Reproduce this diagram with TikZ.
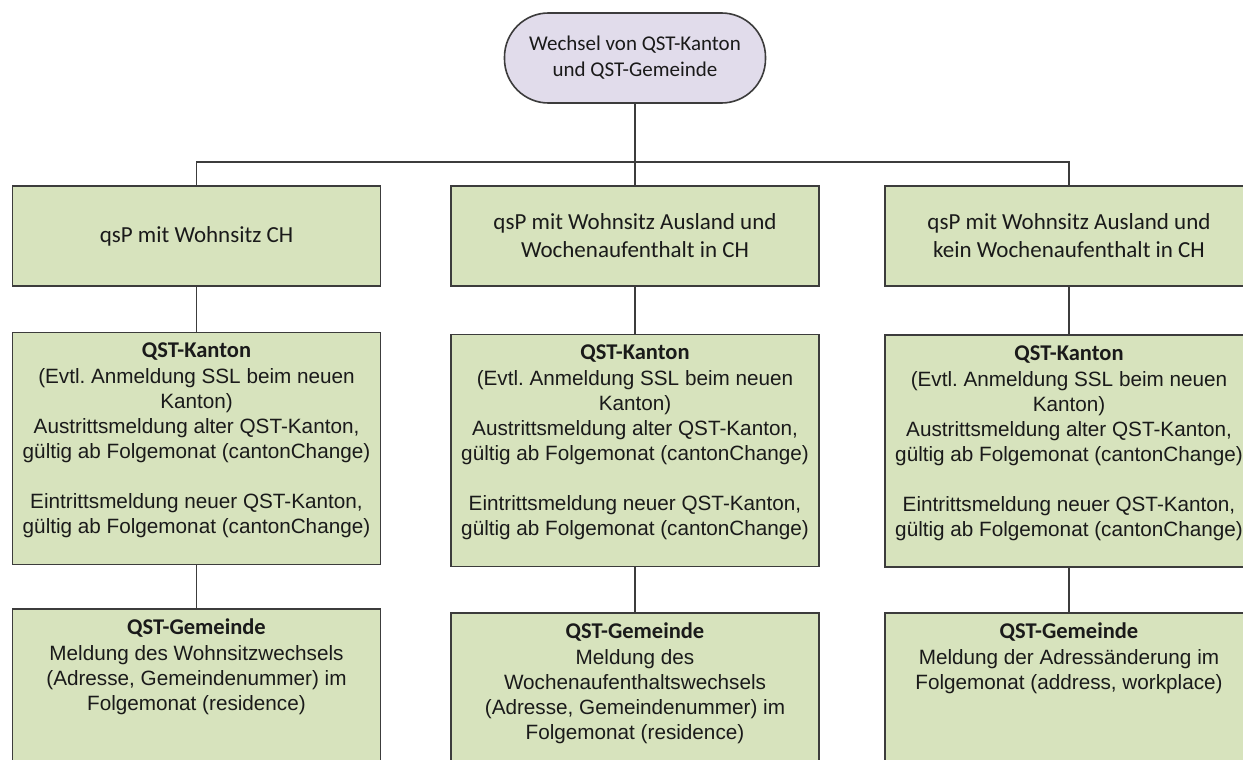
\documentclass[tikz,border=0pt]{standalone}
\usepackage{fontspec}
\setmainfont{Liberation Sans}
\newfontfamily\calibrifont{Carlito}
\definecolor{boxgreen}{HTML}{D7E3BD}
\definecolor{topfill}{HTML}{E1DCEB}
\definecolor{edgegray}{HTML}{3C3C3C}
\definecolor{txt}{HTML}{1A1A1A}
\frenchspacing
\begin{document}
\begin{tikzpicture}[x=1pt,y=-1pt,
  box/.style={draw=edgegray, line width=1.6pt, fill=boxgreen, inner sep=0pt, text=txt},
  topbox/.style={draw=edgegray, line width=1.6pt, fill=topfill, rounded corners=44pt, inner sep=0pt, text=txt,
    minimum width=261pt, minimum height=90pt, align=center, font=\calibrifont\fontsize{21}{26}\selectfont},
  headbox/.style={box, minimum width=368pt, minimum height=100pt, align=center,
    font=\calibrifont\fontsize{23}{28}\selectfont},
  midbox/.style={box, minimum width=368pt, minimum height=232pt},
  lowbox/.style={box, minimum width=368pt, minimum height=200pt},
  bodytext/.style={anchor=north, inner sep=0pt, align=center, text=txt,
    font=\fontsize{20.7}{25}\selectfont},
  conn/.style={draw=edgegray, line width=1.6pt}
]
\useasboundingbox (0,0) rectangle (1243,760);
\clip (0,0) rectangle (1243,760);
\fill[white] (0,0) rectangle (1243,760);

% top node
\node[topbox] (top) at (635,58) {Wechsel von QST-Kanton\\und QST-Gemeinde};

% row 1
\node[headbox] (l1) at (196.5,236) {qsP mit Wohnsitz CH};
\node[headbox] (m1) at (635,236) {qsP mit Wohnsitz Ausland und\\Wochenaufenthalt in CH};
\node[headbox] (r1) at (1069,236) {qsP mit Wohnsitz Ausland und\\kein Wochenaufenthalt in CH};

% row 2
\node[midbox] (l2) at (196.5,448.5) {};
\node[midbox] (m2) at (635,450.5) {};
\node[midbox] (r2) at (1069,451) {};

% row 3
\node[lowbox, anchor=north] (l3) at (196.5,608) {};
\node[lowbox, anchor=north] (m3) at (635,612) {};
\node[lowbox, anchor=north] (r3) at (1069,612) {};

% texts row 2
\newcommand{\kantontext}{\rule{0pt}{20pt}{\calibrifont\bfseries\fontsize{22.5}{25}\selectfont QST-Kanton}\\[1pt]
(Evtl. Anmeldung SSL beim neuen\\
Kanton)\\
Austrittsmeldung alter QST-Kanton,\\
gültig ab Folgemonat (cantonChange)\\[25pt]
Eintrittsmeldung neuer QST-Kanton,\\
gültig ab Folgemonat (cantonChange)}
\node[bodytext] (l2t) at ([yshift=-6pt]l2.north) {\kantontext};
\node[bodytext] (m2t) at ([yshift=-6pt]m2.north) {\kantontext};
\node[bodytext] (r2t) at ([yshift=-6pt]r2.north) {\kantontext};

% texts row 3
\node[bodytext] (l3t) at ([yshift=-6pt]l3.north) {\rule{0pt}{20pt}{\calibrifont\bfseries\fontsize{22.5}{25}\selectfont QST-Gemeinde}\\[1pt]
Meldung des Wohnsitzwechsels\\
(Adresse, Gemeindenummer) im\\
Folgemonat (residence)};
\node[bodytext] (m3t) at ([yshift=-6pt]m3.north) {\rule{0pt}{20pt}{\calibrifont\bfseries\fontsize{22.5}{25}\selectfont QST-Gemeinde}\\[1pt]
Meldung des\\
Wochenaufenthaltswechsels\\
(Adresse, Gemeindenummer) im\\
Folgemonat (residence)};
\node[bodytext] (r3t) at ([yshift=-6pt]r3.north) {\rule{0pt}{20pt}{\calibrifont\bfseries\fontsize{22.5}{25}\selectfont QST-Gemeinde}\\[1pt]
Meldung der Adressänderung im\\
Folgemonat (address, workplace)};

% connectors
\coordinate (bus) at (0,162);
\draw[conn] (top.south) -- (top.south |- bus);
\draw[conn] (l1.north) -- (l1.north |- bus) -- (r1.north |- bus) -- (r1.north);
\draw[conn] (m1.north) -- (m1.north |- bus);
\draw[conn] (l1.south) -- (l2.north);
\draw[conn] (m1.south) -- (m2.north);
\draw[conn] (r1.south) -- (r2.north);
\draw[conn] (l2.south) -- (l3.north);
\draw[conn] (m2.south) -- (m3.north);
\draw[conn] (r2.south) -- (r3.north);
\end{tikzpicture}
\end{document}
